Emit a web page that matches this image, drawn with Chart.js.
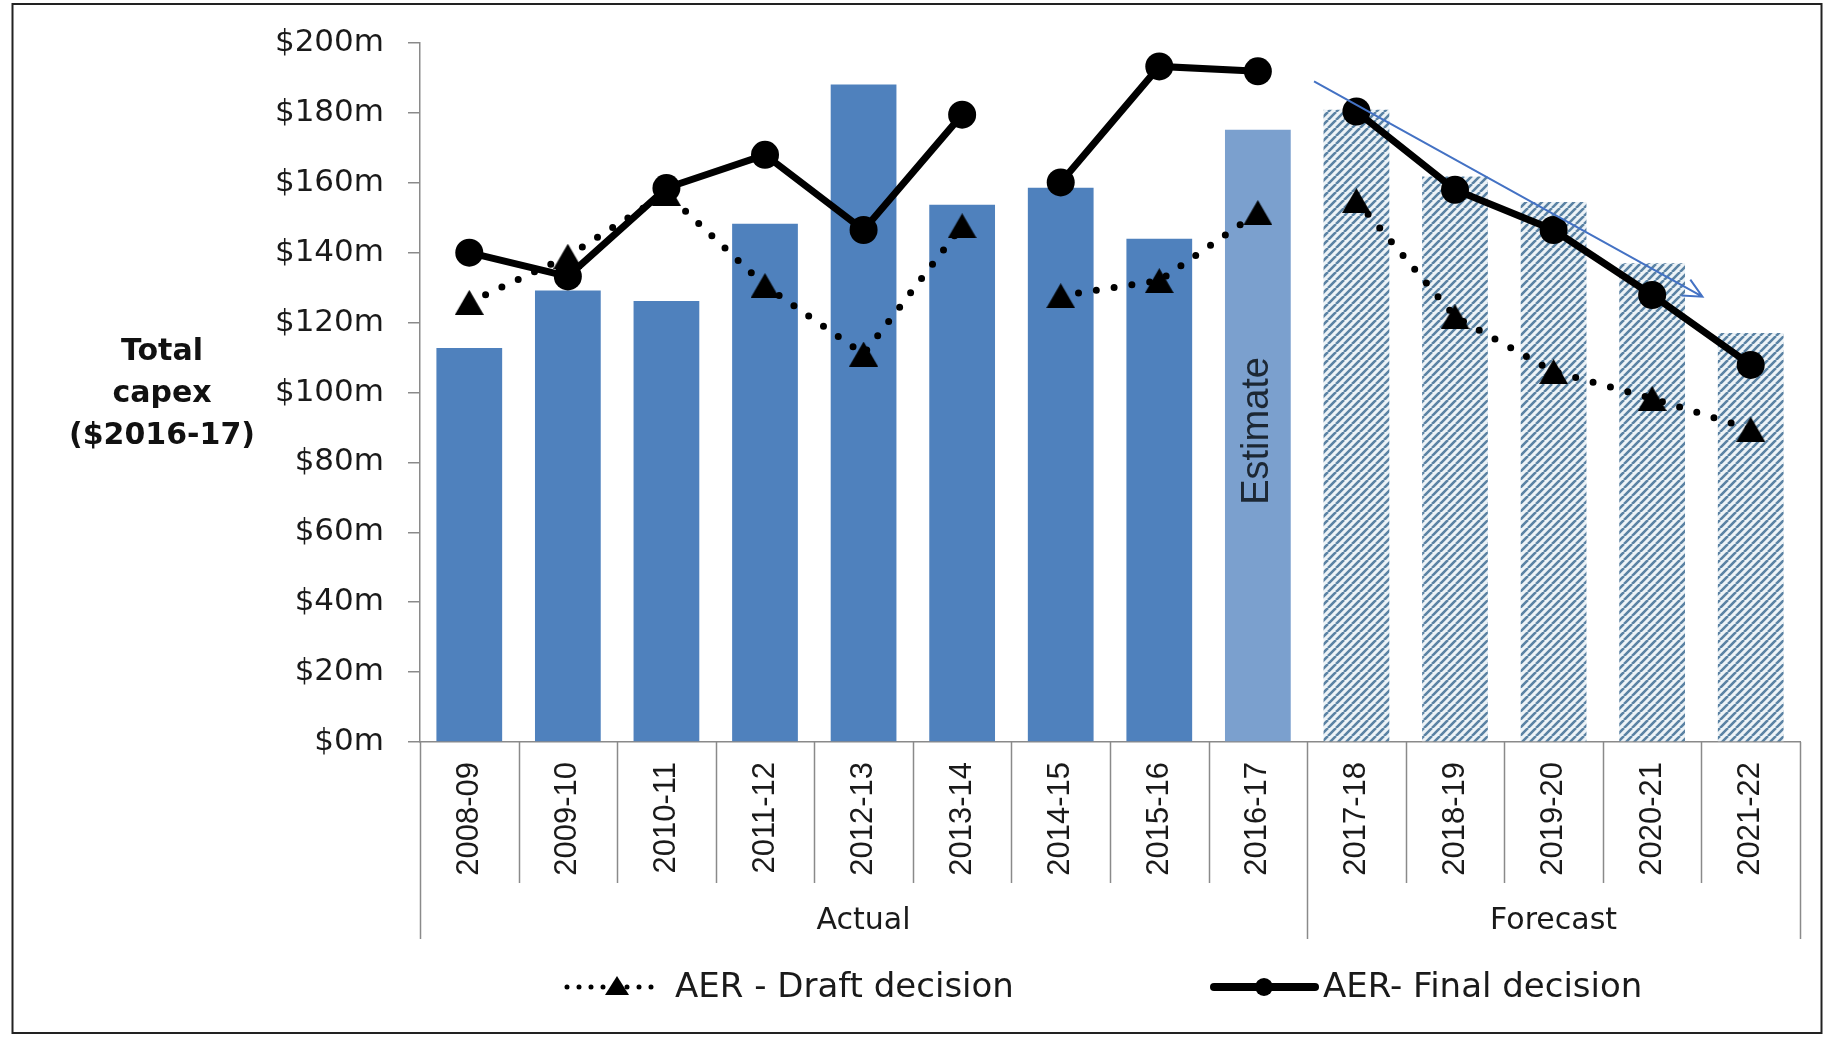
<!DOCTYPE html>
<html>
<head>
<meta charset="utf-8">
<title>Total capex</title>
<script src="https://cdn.jsdelivr.net/npm/chart.js@4.4.1/dist/chart.umd.min.js"></script>
<style>
  html, body { margin: 0; padding: 0; background: #fff; }
  #wrap { position: relative; width: 1824px; height: 1037px; }
</style>
</head>
<body>
<div id="wrap"><canvas id="capexChart" width="1824" height="1037"></canvas></div>
<script>
// categories
const years = ['2008-09', '2009-10', '2010-11', '2011-12', '2012-13', '2013-14', '2014-15',
    '2015-16', '2016-17', '2017-18', '2018-19', '2019-20', '2020-21', '2021-22'];
const groupLabels = ['Actual', 'Forecast'];
const groupSizes = [9, 5];
const estimateYear = '2016-17';

// series ($m, 2016-17)
const totalCapex = [112.7, 129.2, 126.2, 148.3, 188.1, 153.7, 158.6, 144.0, 175.2,
    180.9, 161.8, 154.5, 137.0, 117.0];
const draftDecision = [125.8, 139.0, 157.0, 130.6, 111.0, 147.7, 127.7, 132.0, 151.5,
    154.9, 121.7, 106.0, 98.3, 89.5];
const finalDecision = [140.0, 133.2, 158.5, 168.0, 146.5, 179.5, 160.1, 193.3, 191.9,
    180.4, 158.0, 146.5, 127.9, 107.9];
// the lines are not joined after these years
const lineBreaksAfter = ['2013-14', '2016-17'];

// y axis
const yMin = 0;
const yMax = 200;
const yStep = 20;

// trend arrow, in (category index, $m)
const trendArrow = { from: [8.57, 189], to: [12.51, 127.4] };

const canvas = document.getElementById('capexChart');
const ctx = canvas.getContext('2d');

/* hatch for the forecast bars */
function makeHatch() {
    const s = 8;
    const tile = document.createElement('canvas');
    tile.width = s;
    tile.height = s;
    const t = tile.getContext('2d');
    t.fillStyle = '#edf3f7';
    t.fillRect(0, 0, s, s);
    t.strokeStyle = '#5a82a3';
    t.lineWidth = 2.6;
    t.beginPath();
    for (let k = -s; k <= s; k += s) {
        t.moveTo(k, s);
        t.lineTo(k + s, 0);
    }
    t.stroke();
    return ctx.createPattern(tile, 'repeat');
}
const hatch = makeHatch();

/* triangle marker, centred on its box like Excel does */
function makeTriangle(w, h) {
    const c = document.createElement('canvas');
    c.width = w;
    c.height = h;
    const t = c.getContext('2d');
    t.fillStyle = '#000';
    t.beginPath();
    t.moveTo(w / 2, 0);
    t.lineTo(w, h);
    t.lineTo(0, h);
    t.closePath();
    t.fill();
    return c;
}
const triangle = makeTriangle(29, 25);

function barColour(c) {
    const i = c.dataIndex;
    if (i >= groupSizes[0]) return hatch;
    if (years[i] === estimateYear) return '#7ba0ce';
    return '#4f81bd';
}

function gapColour(c) {
    return lineBreaksAfter.includes(years[c.p0DataIndex]) ? 'rgba(0,0,0,0)' : undefined;
}

// extra drawing: frame, axis title, category boxes, groups, legend, arrow
const decorations = {
    id: 'decorations',
    afterDatasetsDraw(chart) {
        const c = chart.ctx;
        const xs = chart.scales.x, ys = chart.scales.y;
        const x0 = xs.getPixelForValue(trendArrow.from[0]);
        const y0 = ys.getPixelForValue(trendArrow.from[1]);
        const x1 = xs.getPixelForValue(trendArrow.to[0]);
        const y1 = ys.getPixelForValue(trendArrow.to[1]);
        const ang = Math.atan2(y1 - y0, x1 - x0);
        c.save();
        c.strokeStyle = '#4472c4';
        c.lineWidth = 2;
        c.beginPath();
        c.moveTo(x0, y0);
        c.lineTo(x1, y1);
        c.moveTo(x1 - 21 * Math.cos(ang - 0.45), y1 - 21 * Math.sin(ang - 0.45));
        c.lineTo(x1, y1);
        c.lineTo(x1 - 21 * Math.cos(ang + 0.45), y1 - 21 * Math.sin(ang + 0.45));
        c.stroke();
        c.restore();
    },
    afterDraw(chart) {
        const c = chart.ctx;
        const area = chart.chartArea;
        const xs = chart.scales.x, ys = chart.scales.y;
        c.save();

        // frame
        c.strokeStyle = '#222';
        c.lineWidth = 2;
        c.strokeRect(12.5, 4, 1809, 1029);

        // y title
        c.fillStyle = '#111';
        c.font = 'bold 30px "DejaVu Sans"';
        c.textAlign = 'center';
        c.textBaseline = 'middle';
        const mid = (area.top + area.bottom) / 2 + 2;
        ['Total', 'capex', '($2016-17)'].forEach(function (s, k) {
            c.fillText(s, 162, mid - 42 + k * 42);
        });

        // category and group separators
        const step = xs.getPixelForValue(1) - xs.getPixelForValue(0);
        const edge = i => xs.getPixelForValue(i) - step / 2;
        const groupEdges = [0];
        groupSizes.forEach(n => groupEdges.push(groupEdges[groupEdges.length - 1] + n));
        c.strokeStyle = '#8a8a8a';
        c.lineWidth = 1.5;
        c.beginPath();
        for (let i = 0; i <= years.length; i++) {
            const x = Math.round(edge(i)) + 0.5;
            c.moveTo(x, area.bottom);
            c.lineTo(x, area.bottom + (groupEdges.includes(i) ? 197 : 141));
        }
        c.stroke();

        c.fillStyle = '#1a1a1a';
        c.font = '30px "DejaVu Sans"';
        groupLabels.forEach(function (g, k) {
            const xm = (edge(groupEdges[k]) + edge(groupEdges[k + 1])) / 2;
            c.fillText(g, xm, area.bottom + 179);
        });

        // "Estimate" inside its bar
        c.save();
        c.translate(xs.getPixelForValue(years.indexOf(estimateYear)), ys.getPixelForValue(89));
        c.rotate(-Math.PI / 2);
        c.fillStyle = '#1c2733';
        c.font = '38px "Liberation Sans"';
        c.fillText('Estimate', 0, 0);
        c.restore();

        // legend
        const ly = 987;
        c.strokeStyle = '#000';
        c.fillStyle = '#000';
        c.lineCap = 'round';
        c.lineWidth = 5;
        c.setLineDash([0, 12]);
        c.beginPath();
        c.moveTo(567, ly);
        c.lineTo(663, ly);
        c.stroke();
        c.setLineDash([]);
        c.beginPath();
        c.moveTo(617, ly - 11);
        c.lineTo(629, ly + 8);
        c.lineTo(605, ly + 8);
        c.closePath();
        c.fill();

        c.lineWidth = 8;
        c.beginPath();
        c.moveTo(1214, ly);
        c.lineTo(1315, ly);
        c.stroke();
        c.beginPath();
        c.arc(1264, ly, 9, 0, Math.PI * 2);
        c.fill();

        c.fillStyle = '#1a1a1a';
        c.font = '34px "DejaVu Sans"';
        c.textAlign = 'left';
        c.fillText('AER - Draft decision', 675, ly + 1);
        c.fillText('AER- Final decision', 1323, ly + 1);
        c.restore();
    }
};

const capexChart = new Chart(ctx, {
    type: 'bar',
    data: {
        labels: years,
        datasets: [{
            type: 'line',
            label: 'AER- Final decision',
            data: finalDecision,
            borderColor: '#000',
            borderWidth: 7,
            pointStyle: 'circle',
            pointRadius: 14,
            pointBackgroundColor: '#000',
            pointBorderWidth: 0,
            segment: { borderColor: gapColour },
            clip: false,
            order: 2
        }, {
            type: 'line',
            label: 'AER - Draft decision',
            data: draftDecision,
            borderColor: '#000',
            borderWidth: 7,
            borderDash: [0, 18],
            borderCapStyle: 'round',
            pointStyle: triangle,
            pointRadius: 14,
            segment: { borderColor: gapColour },
            clip: false,
            order: 1
        }, {
            type: 'bar',
            label: 'Total capex',
            data: totalCapex,
            backgroundColor: barColour,
            borderWidth: 0,
            categoryPercentage: 1,
            barPercentage: 0.667,
            order: 3
        }]
    },
    options: {
        responsive: false,
        animation: false,
        events: [],
        layout: { padding: { top: 43, right: 24, bottom: 0, left: 0 } },
        plugins: {
            legend: { display: false },
            tooltip: { enabled: false }
        },
        scales: {
            x: {
                offset: true,
                grid: { display: false },
                border: { color: '#8a8a8a', width: 1.5 },
                ticks: {
                    autoSkip: false,
                    minRotation: 90,
                    maxRotation: 90,
                    padding: 12,
                    color: '#1a1a1a',
                    font: { family: '"Liberation Sans"', size: 31 }
                },
                afterFit(scale) { scale.height = 295; }
            },
            y: {
                min: yMin,
                max: yMax,
                grid: { drawOnChartArea: false, tickLength: 12, color: '#8a8a8a', lineWidth: 1.5 },
                border: { color: '#8a8a8a', width: 1.5 },
                ticks: {
                    stepSize: yStep,
                    padding: 24,
                    color: '#1a1a1a',
                    font: { family: '"DejaVu Sans"', size: 31 },
                    callback: function (v) { return '$' + v + 'm'; }
                },
                afterFit(scale) { scale.width = 420; }
            }
        }
    },
    plugins: [decorations]
});
</script>
</body>
</html>
